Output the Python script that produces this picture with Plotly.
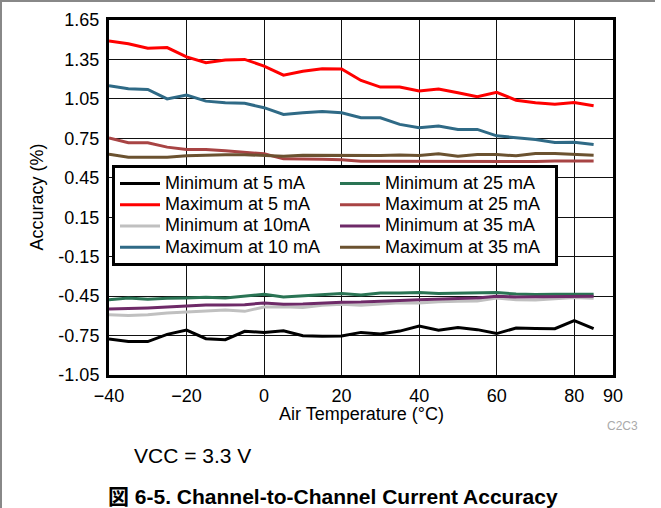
import plotly.graph_objects as go

temps = list(range(-40, 90, 5))

min_5ma = [-0.777, -0.796, -0.796, -0.741, -0.708, -0.774, -0.781, -0.718, -0.726, -0.713, -0.751, -0.756, -0.754,
           -0.726, -0.738, -0.716, -0.678, -0.710, -0.688, -0.705, -0.735, -0.693, -0.696, -0.698, -0.637, -0.698]
max_5ma = [1.49, 1.47, 1.435, 1.44, 1.37, 1.325, 1.345, 1.35, 1.30, 1.23, 1.26, 1.28, 1.277,
           1.19, 1.14, 1.14, 1.11, 1.125, 1.097, 1.066, 1.10, 1.04, 1.02, 1.01, 1.023, 0.998]
min_10ma = [-0.591, -0.598, -0.591, -0.578, -0.571, -0.566, -0.556, -0.566, -0.533, -0.530, -0.536, -0.520, -0.512,
            -0.520, -0.512, -0.500, -0.502, -0.492, -0.490, -0.487, -0.464, -0.477, -0.480, -0.469, -0.461, -0.466]
max_10ma = [1.15, 1.127, 1.122, 1.05, 1.079, 1.033, 1.02, 1.016, 0.983, 0.932, 0.944, 0.955, 0.944,
            0.906, 0.906, 0.856, 0.83, 0.843, 0.818, 0.818, 0.769, 0.754, 0.741, 0.719, 0.72, 0.703]
min_25ma = [-0.477, -0.464, -0.474, -0.466, -0.464, -0.459, -0.464, -0.449, -0.436, -0.456, -0.446, -0.438, -0.431,
            -0.441, -0.426, -0.426, -0.423, -0.431, -0.429, -0.426, -0.423, -0.434, -0.438, -0.436, -0.436, -0.436]
max_25ma = [0.752, 0.716, 0.716, 0.683, 0.665, 0.665, 0.655, 0.643, 0.632, 0.594, 0.594, 0.590, 0.588,
            0.576, 0.575, 0.575, 0.572, 0.574, 0.572, 0.571, 0.573, 0.575, 0.574, 0.577, 0.578, 0.578]
min_35ma = [-0.548, -0.545, -0.540, -0.533, -0.525, -0.518, -0.518, -0.515, -0.502, -0.512, -0.510, -0.502, -0.497,
            -0.495, -0.487, -0.484, -0.477, -0.475, -0.469, -0.464, -0.451, -0.456, -0.456, -0.452, -0.451, -0.451]
max_35ma = [0.630, 0.607, 0.607, 0.607, 0.617, 0.622, 0.625, 0.625, 0.617, 0.614, 0.622, 0.620, 0.619,
            0.617, 0.619, 0.624, 0.619, 0.632, 0.614, 0.627, 0.627, 0.617, 0.634, 0.634, 0.629, 0.622]

series = [
    ("Minimum at 5 mA", min_5ma, "#000000", 1),
    ("Maximum at 5 mA", max_5ma, "#ff0000", 3),
    ("Minimum at 10mA", min_10ma, "#c0c0c0", 5),
    ("Maximum at 10 mA", max_10ma, "#2f6a86", 7),
    ("Minimum at 25 mA", min_25ma, "#2a7454", 2),
    ("Maximum at 25 mA", max_25ma, "#a84444", 4),
    ("Minimum at 35 mA", min_35ma, "#6e2a68", 6),
    ("Maximum at 35 mA", max_35ma, "#6b5230", 8),
]

x_ticks = [-40, -20, 0, 20, 40, 60, 80, 90]
y_ticks = [-1.05, -0.75, -0.45, -0.15, 0.15, 0.45, 0.75, 1.05, 1.35, 1.65]
y_ticktext = ["%.2f" % v for v in y_ticks]

FONT = "Liberation Sans, Arial, Noto Sans CJK JP, sans-serif"

fig = go.Figure()
for name, vals, color, rank in series:
    fig.add_trace(go.Scatter(x=temps, y=vals, mode="lines",
                             name='<span style="font-size:18px">%s</span>' % name,
                             hovertemplate="%{y}<extra>" + name + "</extra>",
                             line=dict(color=color, width=3), legendrank=rank))

L, R, T, B = 109, 48, 20, 133
W, H = 661, 508
pw, ph = W - L - R, H - T - B

def px_x(p):
    return (p - L) / pw

def px_y(p):
    return (H - B - p) / ph

fig.update_layout(
    width=W, height=H,
    margin=dict(l=L, r=R, t=T, b=B, autoexpand=False),
    paper_bgcolor="white", plot_bgcolor="white",
    font=dict(family=FONT, size=18, color="black"),
    showlegend=True,
    legend=dict(
        orientation="h", x=px_x(112), y=px_y(165), xanchor="left", yanchor="top",
        entrywidth=165, entrywidthmode="pixels",
        bgcolor="white", bordercolor="black", borderwidth=3,
        font=dict(size=14), itemwidth=40, traceorder="normal",
    ),
    xaxis=dict(range=[-40, 90], tickvals=x_ticks, showgrid=True, gridcolor="#111", gridwidth=1,
               showline=True, linecolor="black", linewidth=3, mirror=True, ticks="",
               ticklabelstandoff=2, zeroline=False, tickfont=dict(size=18)),
    yaxis=dict(range=[-1.05, 1.65], tickvals=y_ticks, ticktext=y_ticktext, showgrid=True,
               gridcolor="#111", gridwidth=1, showline=True, linecolor="black", linewidth=3,
               mirror=True, ticks="", ticklabelstandoff=3, zeroline=False, tickfont=dict(size=18)),
    annotations=[
        dict(text="Accuracy (%)", x=px_x(36), y=0.5, xref="paper", yref="paper", textangle=-90,
             showarrow=False, xanchor="center", yanchor="middle", font=dict(size=18)),
        dict(text="Air Temperature (°C)", x=0.5, y=px_y(414), xref="paper", yref="paper",
             showarrow=False, xanchor="center", yanchor="middle", font=dict(size=18)),
        dict(text="C2C3", x=px_x(622), y=px_y(426), xref="paper", yref="paper",
             showarrow=False, xanchor="center", yanchor="middle", font=dict(size=12, color="#aaaaaa")),
        dict(text="VCC = 3.3 V", x=px_x(132), y=px_y(455), xref="paper", yref="paper",
             showarrow=False, xanchor="left", yanchor="middle", font=dict(size=21)),
        dict(text="<b>図 6-5. Channel-to-Channel Current Accuracy</b>", x=px_x(106), y=px_y(496),
             xref="paper", yref="paper", showarrow=False, xanchor="left", yanchor="middle",
             font=dict(size=21)),
    ],
    shapes=[
        dict(type="line", xref="paper", yref="paper", x0=px_x(0), x1=px_x(655), y0=px_y(1), y1=px_y(1),
             line=dict(color="#888888", width=2)),
        dict(type="line", xref="paper", yref="paper", x0=px_x(1), x1=px_x(1), y0=px_y(0), y1=px_y(508),
             line=dict(color="#888888", width=2)),
    ],
)

fig.write_html("out.html", config={"displayModeBar": False},
               post_script="document.body.style.margin='0';")
